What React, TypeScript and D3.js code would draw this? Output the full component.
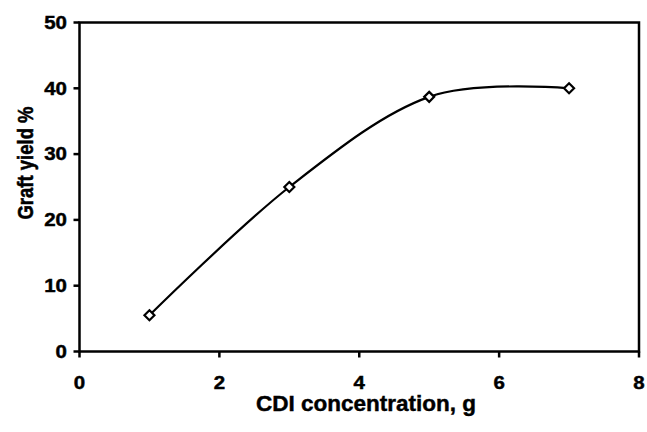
import React from "react";
import * as d3 from "d3";

// CDI concentration (g) vs. graft yield (%)
const concentration = [1, 3, 5, 7];
const graftYield = [5.5, 25, 38.7, 40];
const xTicks = [0, 2, 4, 6, 8];
const yTicks = [0, 10, 20, 30, 40, 50];
const xTitle = "CDI concentration, g";
const yTitle = "Graft yield %";

const W = 647;
const H = 432;
const M = { left: 79.5, right: 8, top: 22.5, bottom: 80.5 };

export default function App() {
  const x = d3.scaleLinear().domain([0, 8]).range([M.left, W - M.right]);
  const y = d3.scaleLinear().domain([0, 50]).range([H - M.bottom, M.top]);
  const pts = concentration.map((c, i) => [c, graftYield[i]] as [number, number]);
  const line = d3
    .line<[number, number]>()
    .x((d) => x(d[0]))
    .y((d) => y(d[1]))
    .curve(d3.curveCardinal.tension(0));
  const font = "'Liberation Sans', Arial, sans-serif";
  const x0 = x(0), x1 = x(8), y0 = y(0), y1 = y(50);
  const textStroke = { stroke: "#000", strokeWidth: 0.45 };
  return (
    <svg
      width={W}
      height={H}
      style={{ position: "absolute", left: 0, top: 0, background: "#fff" }}
      fontFamily={font}
      fontWeight="bold"
    >
      <rect x={x0} y={y1} width={x1 - x0} height={y0 - y1} fill="none" stroke="#000" strokeWidth={2.5} />
      {xTicks.map((t) => (
        <g key={"x" + t}>
          <line x1={x(t)} x2={x(t)} y1={y0} y2={y0 + 6} stroke="#000" strokeWidth={2.5} />
          <text transform={`translate(${x(t)},389) scale(1.17,1)`} textAnchor="middle" fontSize={17.5} {...textStroke}>
            {t}
          </text>
        </g>
      ))}
      {yTicks.map((t) => (
        <g key={"y" + t}>
          <line x1={x0 - 6} x2={x0} y1={y(t)} y2={y(t)} stroke="#000" strokeWidth={2.5} />
          <text transform={`translate(67,${y(t)}) scale(1.17,1)`} dy="0.36em" textAnchor="end" fontSize={17.5} {...textStroke}>
            {t}
          </text>
        </g>
      ))}
      <path d={line(pts) ?? ""} fill="none" stroke="#000" strokeWidth={2.2} />
      {pts.map((p, i) => {
        const cx = x(p[0]);
        const cy = y(p[1]);
        const r = 5;
        return (
          <path
            key={"m" + i}
            d={`M${cx},${cy - r}L${cx + r},${cy}L${cx},${cy + r}L${cx - r},${cy}Z`}
            fill="#fff"
            stroke="#000"
            strokeWidth={2.2}
          />
        );
      })}
      <text x={366} y={411} textAnchor="middle" fontSize={22.5} {...textStroke}>
        {xTitle}
      </text>
      <text transform={`translate(33,163) rotate(-90) scale(1,1.2)`} textAnchor="middle" fontSize={18.5} {...textStroke}>
        {yTitle}
      </text>
    </svg>
  );
}
